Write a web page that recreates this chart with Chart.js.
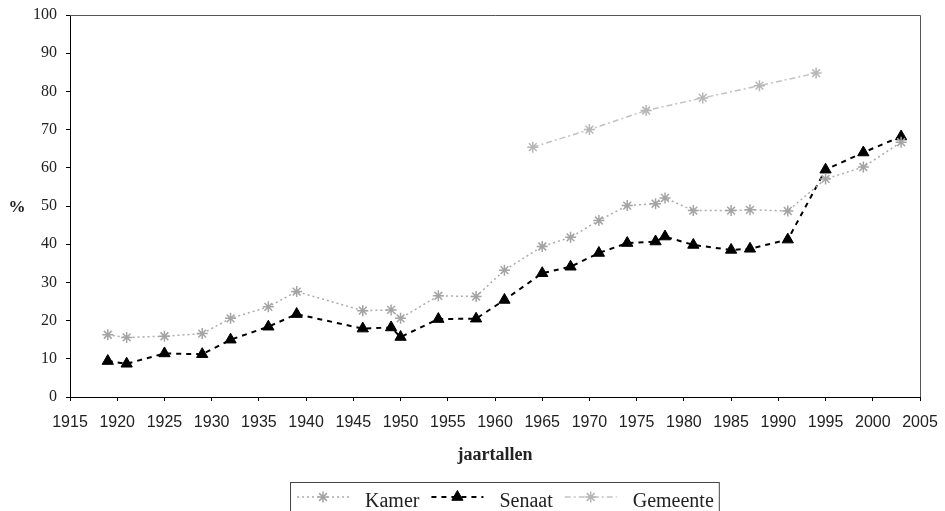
<!DOCTYPE html>
<html lang="nl">
<head>
  <meta charset="utf-8">
  <title>Kamer, Senaat, Gemeente</title>
  <script src="https://cdn.jsdelivr.net/npm/chart.js@4.4.1/dist/chart.umd.min.js"></script>
  <style>
    html, body { margin: 0; padding: 0; background: #fff; }
  </style>
</head>
<body>
  <canvas id="grafiek" width="945" height="511"></canvas>
  <script>
    // verkiezingsjaren Kamer en Senaat
    const jaren = [1919, 1921, 1925, 1929, 1932, 1936, 1939, 1946, 1949, 1950, 1954, 1958, 1961,
                   1965, 1968, 1971, 1974, 1977, 1978, 1981, 1985, 1987, 1991, 1995, 1999, 2003];
    const kamer = [16.3, 15.6, 15.9, 16.6, 20.6, 23.6, 27.6, 22.6, 22.8, 20.6, 26.5, 26.3, 33.2,
                   39.4, 41.8, 46.2, 50.1, 50.6, 52.1, 48.8, 48.8, 49.0, 48.7, 57.1, 60.2, 66.7];
    const senaat = [9.4, 8.7, 11.4, 11.2, 15.0, 18.4, 21.7, 17.9, 18.2, 15.7, 20.4, 20.5, 25.4,
                    32.4, 34.1, 37.7, 40.3, 40.7, 42.0, 39.8, 38.5, 38.8, 41.2, 59.5, 64.0, 68.2];
    // gemeenteraadsverkiezingen
    const gemeenteJaren = [1964, 1970, 1976, 1982, 1988, 1994];
    const gemeente = [65.4, 70.0, 75.0, 78.3, 81.5, 84.8];

    const reeksNamen = ['Kamer', 'Senaat', 'Gemeente'];
    const yTicks = { min: 0, max: 100, step: 10 };
    const xTicks = { min: 1915, max: 2005, step: 5 };

    const punten = (xs, ys) => xs.map((x, i) => ({ x: x, y: ys[i] }));

    // kader, "%" en legende
    const extras = {
      id: 'extras',
      beforeDatasetsDraw(chart) {
        const { ctx, chartArea: a } = chart;
        ctx.save();
        ctx.strokeStyle = '#555';
        ctx.lineWidth = 1;
        ctx.beginPath();
        ctx.moveTo(a.left, a.top + 0.5);
        ctx.lineTo(a.right + 0.5, a.top + 0.5);
        ctx.lineTo(a.right + 0.5, a.bottom);
        ctx.stroke();
        ctx.restore();
      },
      afterDraw(chart) {
        const ctx = chart.ctx;
        ctx.save();
        ctx.fillStyle = '#222';
        ctx.font = 'bold 17px "Liberation Serif", serif';
        ctx.textAlign = 'center';
        ctx.textBaseline = 'middle';
        ctx.fillText('%', 17, chart.scales.y.getPixelForValue(50) + 2);

        // legende
        ctx.font = '20px "Liberation Serif", serif';
        ctx.textAlign = 'left';
        ctx.textBaseline = 'alphabetic';
        const sampleW = 52, tekstGap = 16, itemGap = 12, y = 497;
        let x = 297;
        chart.data.datasets.forEach(ds => {
          ctx.save();
          ctx.strokeStyle = ds.borderColor;
          ctx.lineWidth = ds.borderWidth;
          ctx.setLineDash(ds.borderDash || []);
          ctx.beginPath();
          ctx.moveTo(x, y);
          ctx.lineTo(x + sampleW, y);
          ctx.stroke();
          ctx.setLineDash([]);
          ctx.fillStyle = ds.pointBackgroundColor;
          ctx.strokeStyle = ds.pointBorderColor;
          ctx.lineWidth = ds.pointBorderWidth;
          Chart.helpers.drawPoint(ctx, {
            pointStyle: ds.pointStyle, radius: ds.pointRadius,
            rotation: 0, borderWidth: ds.pointBorderWidth
          }, x + sampleW / 2, y);
          ctx.restore();
          x += sampleW + tekstGap;
          ctx.fillStyle = '#222';
          ctx.fillText(ds.label, x, 507);
          x += ctx.measureText(ds.label).width + itemGap;
        });
        ctx.strokeStyle = '#444';
        ctx.lineWidth = 1;
        ctx.strokeRect(290.5, 482.5, x - itemGap + 5 - 290, 40);
        ctx.restore();
      }
    };

    new Chart(document.getElementById('grafiek'), {
      type: 'line',
      data: {
        datasets: [{
          label: reeksNamen[0],
          data: punten(jaren, kamer),
          borderColor: '#acacac',
          borderWidth: 1.5,
          borderDash: [2, 3],
          pointStyle: 'star',
          pointRadius: 5.5,
          pointBorderWidth: 1.5,
          pointBorderColor: '#a4a4a4',
          pointBackgroundColor: '#a4a4a4'
        }, {
          label: reeksNamen[1],
          data: punten(jaren, senaat),
          borderColor: '#000',
          borderWidth: 2,
          borderDash: [5, 5],
          pointStyle: 'triangle',
          pointRadius: 6.5,
          pointBorderWidth: 1,
          pointBorderColor: '#000',
          pointBackgroundColor: '#000'
        }, {
          label: reeksNamen[2],
          data: punten(gemeenteJaren, gemeente),
          borderColor: '#c2c2c2',
          borderWidth: 1.5,
          borderDash: [6, 3, 2, 3],
          pointStyle: 'star',
          pointRadius: 5.5,
          pointBorderWidth: 1.5,
          pointBorderColor: '#b6b6b6',
          pointBackgroundColor: '#b6b6b6'
        }]
      },
      options: {
        responsive: false,
        animation: false,
        layout: { padding: { left: 0, right: 25, top: 15, bottom: 29 } },
        plugins: {
          legend: { display: false },
          tooltip: { enabled: false }
        },
        scales: {
          x: {
            type: 'linear',
            min: xTicks.min,
            max: xTicks.max,
            afterFit: s => { s.height = 85; s.paddingLeft = 0; s.paddingRight = 0; },
            border: { color: '#000', width: 1 },
            grid: { drawOnChartArea: false, drawTicks: true, tickLength: 4, color: '#000' },
            ticks: {
              stepSize: xTicks.step,
              padding: 12,
              color: '#222',
              maxRotation: 0,
              font: { family: '"Liberation Sans", Arial, sans-serif', size: 16 },
              callback: v => String(v)
            },
            title: {
              display: true,
              text: 'jaartallen',
              color: '#222',
              padding: { top: 0, bottom: 16 },
              font: { family: '"Liberation Serif", serif', size: 18, weight: 'bold' }
            }
          },
          y: {
            min: yTicks.min,
            max: yTicks.max,
            afterFit: s => { s.width = 70; s.paddingTop = 0; s.paddingBottom = 0; },
            border: { color: '#000', width: 1 },
            grid: { drawOnChartArea: false, drawTicks: true, tickLength: 4, color: '#000' },
            ticks: {
              stepSize: yTicks.step,
              padding: 9,
              color: '#222',
              font: { family: '"Liberation Serif", serif', size: 16 }
            }
          }
        }
      },
      plugins: [extras]
    });
  </script>
</body>
</html>
